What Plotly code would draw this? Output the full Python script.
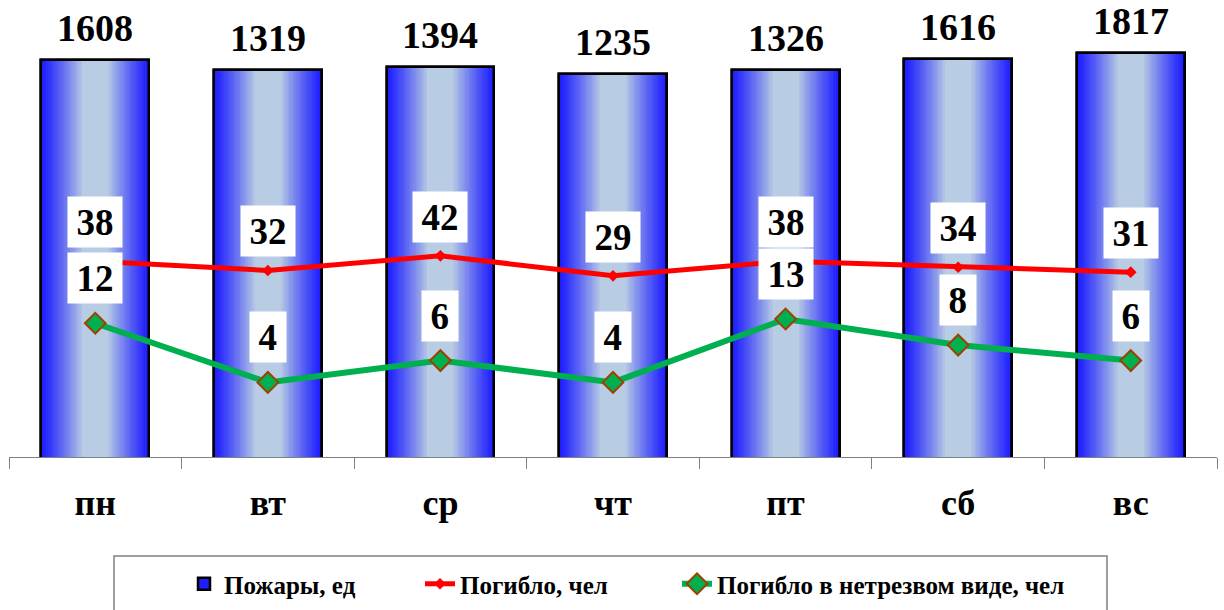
import numpy as np
import plotly.graph_objects as go

days = ["пн", "вт", "ср", "чт", "пт", "сб", "вс"]
fires = [1608, 1319, 1394, 1235, 1326, 1616, 1817]
deaths = [38, 32, 42, 29, 38, 34, 31]
drunk_deaths = [12, 4, 6, 4, 13, 8, 6]

FONT = "Liberation Serif, Times New Roman, serif"
W, H = 1224, 610
ML, MR, MT, MB = 9, 7, 0, 153
PW, PH = W - ML - MR, H - MT - MB

fig = go.Figure()

BAR_W = 0.625
edge = np.array([0x1E, 0x1E, 0xFF])
center = np.array([0xB8, 0xCC, 0xE4])
N = 24
for k in range(N + 1):
    f = 1.0 - k * (0.76 / N)  # width fraction from 1.0 to 0.24
    t = (1.0 - f) / 0.76      # 0 at edge -> 1 at core
    t = t ** 1.15
    c = edge + (center - edge) * t
    col = "rgb(%d,%d,%d)" % tuple(c.astype(int))
    fig.add_trace(go.Bar(
        x=days, y=fires, width=BAR_W * f,
        marker=dict(color=col, line=dict(width=2.5 if k == 0 else 0, color="black")),
        name="Пожары, ед", showlegend=(k == 0), legend="legend",
        hoverinfo="skip" if k else None,
    ))
# outline on top
fig.add_trace(go.Bar(
    x=days, y=fires, width=BAR_W,
    marker=dict(color="rgba(0,0,0,0)", line=dict(width=2.5, color="black")),
    showlegend=False, hoverinfo="skip",
))

fig.add_trace(go.Scatter(
    x=days, y=deaths, mode="lines+markers", name="Погибло, чел",
    line=dict(color="#FF0000", width=5),
    marker=dict(symbol="diamond", size=9, color="#FF0000"),
    legend="legend2",
))
fig.add_trace(go.Scatter(
    x=days, y=drunk_deaths, mode="lines+markers", name="Погибло в нетрезвом виде, чел",
    line=dict(color="#00B050", width=6),
    marker=dict(symbol="diamond", size=16, color="#00B050",
                line=dict(color="#A04000", width=2)),
    legend="legend3",
))

ann = []
for d, v in zip(days, fires):
    ann.append(dict(x=d, y=np.log10(v), xref="x", yref="y", text=str(v),
                    showarrow=False, yanchor="middle", yshift=32,
                    font=dict(family=FONT, size=38, color="black", weight="bold")))
for series, shift in ((deaths, 39), (drunk_deaths, 45)):
    for d, v in zip(days, series):
        s = str(v)
        ann.append(dict(x=d, y=np.log10(v), xref="x", yref="y", text=s,
                        showarrow=False, yanchor="middle", yshift=shift,
                        bgcolor="white", width=18.5 * len(s) + 17, height=50,
                        borderpad=0,
                        font=dict(family=FONT, size=37, color="black", weight="bold")))


def px_x(p):
    return (p - ML) / PW


def px_y(p):
    return (H - MB - p) / PH


legfont = dict(family=FONT, size=25, color="black", weight="bold")
leg_common = dict(orientation="h", yanchor="middle", xanchor="left", y=px_y(584),
                  font=legfont, bgcolor="rgba(0,0,0,0)", borderwidth=0)

fig.update_layout(
    width=W, height=H,
    margin=dict(l=ML, r=MR, t=MT, b=MB),
    paper_bgcolor="white", plot_bgcolor="white",
    barmode="overlay", bargap=0,
    showlegend=True,
    legend=dict(x=px_x(184), **leg_common),
    legend2=dict(x=px_x(420), **leg_common),
    legend3=dict(x=px_x(677), **leg_common),
    annotations=ann,
    shapes=[dict(type="rect", xref="paper", yref="paper",
                 x0=px_x(114), x1=px_x(1107), y0=px_y(640), y1=px_y(556),
                 line=dict(color="#808080", width=1.5), fillcolor="rgba(0,0,0,0)",
                 layer="below")],
    xaxis=dict(type="category", showline=True, linecolor="#808080", linewidth=1,
               ticks="outside", tickson="boundaries", ticklen=11, tickcolor="#808080",
               tickwidth=1, showgrid=False, ticklabelstandoff=14,
               tickfont=dict(family=FONT, size=36, color="black", weight="bold"),
               range=[-0.5, 6.5]),
    yaxis=dict(type="log", range=[0, 3.688], showticklabels=False, showgrid=False,
               zeroline=False, showline=False, ticks=""),
)

fig.write_html("out.html", config={"displayModeBar": False},
               post_script="document.body.style.margin='0';document.body.style.overflow='hidden';")
